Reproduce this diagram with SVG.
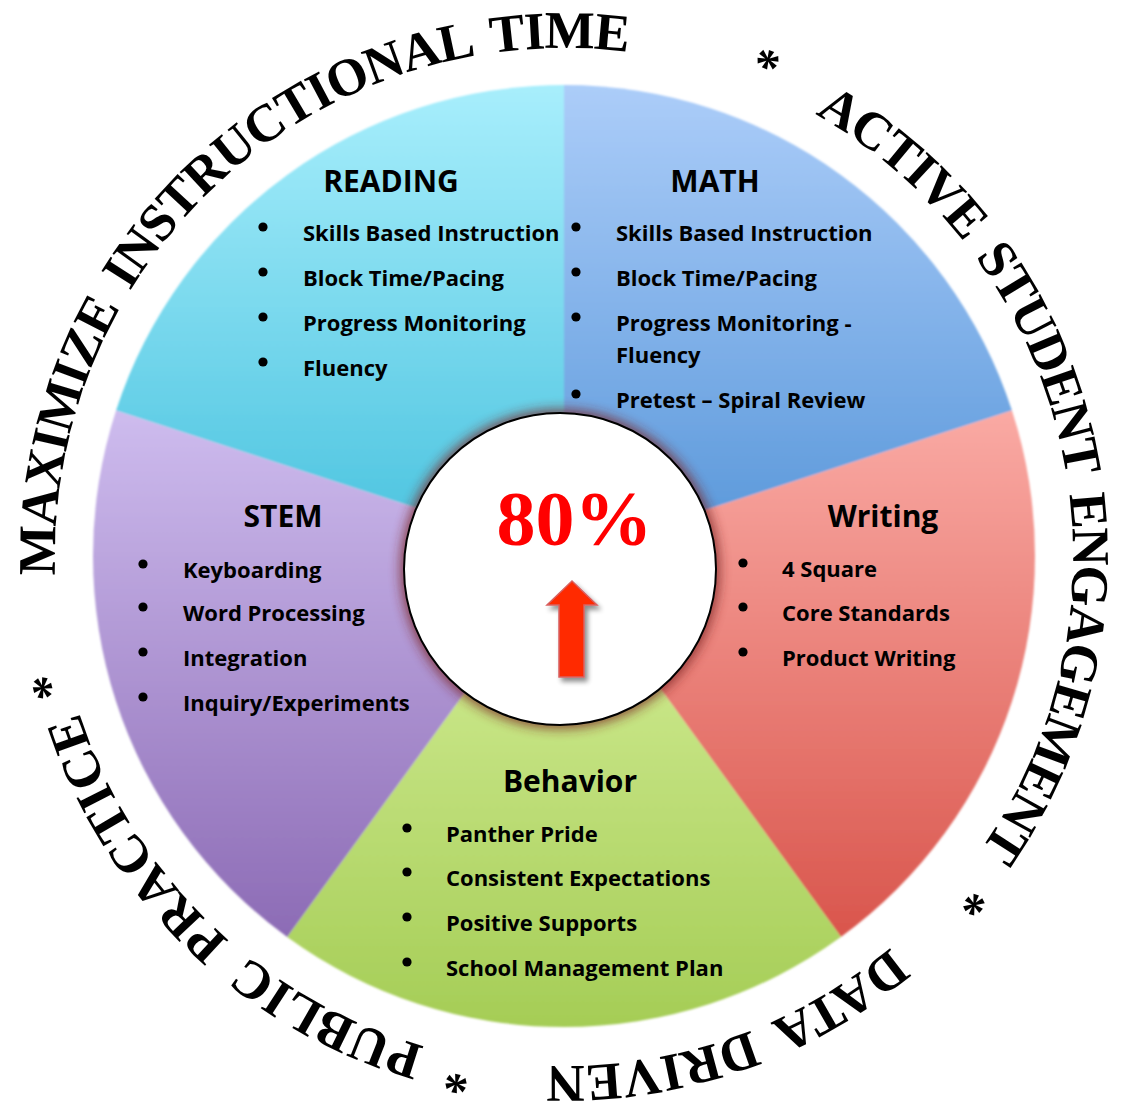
<svg xmlns="http://www.w3.org/2000/svg" xmlns:xlink="http://www.w3.org/1999/xlink" width="1124" height="1108" viewBox="0 0 1124 1108">
<style>
.head{font-family:"Open Sans","Liberation Sans",sans-serif;font-weight:700;font-size:30px;fill:#000;text-anchor:middle}
.item{font-family:"Open Sans","Liberation Sans",sans-serif;font-weight:700;font-size:22px;fill:#000}
.ring{font-family:"Liberation Serif","DejaVu Serif",serif;font-weight:700;font-size:53px;fill:#000;letter-spacing:-1.6px;word-spacing:8px}
.star{font-family:"Liberation Serif","DejaVu Serif",serif;font-weight:700;font-size:50px;fill:#000}
.pct{font-family:"Liberation Serif","DejaVu Serif",serif;font-weight:700;font-size:78px;fill:#ff0000;text-anchor:middle}
</style>
<defs>
<linearGradient id="gRead" gradientUnits="userSpaceOnUse" x1="0" y1="85" x2="0" y2="556"><stop offset="0" stop-color="#a8eefc"/><stop offset="1" stop-color="#48c2de"/></linearGradient>
<linearGradient id="gMath" gradientUnits="userSpaceOnUse" x1="0" y1="85" x2="0" y2="556"><stop offset="0" stop-color="#accdf9"/><stop offset="1" stop-color="#5796d9"/></linearGradient>
<linearGradient id="gWrit" gradientUnits="userSpaceOnUse" x1="0" y1="410" x2="0" y2="940"><stop offset="0" stop-color="#faaaa4"/><stop offset="1" stop-color="#d9554c"/></linearGradient>
<linearGradient id="gBeh" gradientUnits="userSpaceOnUse" x1="0" y1="556" x2="0" y2="1027"><stop offset="0" stop-color="#d6ef9a"/><stop offset="1" stop-color="#a5cd56"/></linearGradient>
<linearGradient id="gStem" gradientUnits="userSpaceOnUse" x1="0" y1="410" x2="0" y2="940"><stop offset="0" stop-color="#cebcee"/><stop offset="1" stop-color="#8c6bb5"/></linearGradient>
<filter id="soft" x="-5%" y="-5%" width="110%" height="110%"><feGaussianBlur stdDeviation="1.2"/></filter>
<filter id="glow" x="-20%" y="-20%" width="140%" height="140%"><feGaussianBlur stdDeviation="6"/></filter>
<filter id="shadow" x="-30%" y="-30%" width="160%" height="160%"><feGaussianBlur in="SourceAlpha" stdDeviation="2.5"/><feOffset dx="3" dy="4" result="b"/><feComponentTransfer><feFuncA type="linear" slope="0.45"/></feComponentTransfer><feMerge><feMergeNode/><feMergeNode in="SourceGraphic"/></feMerge></filter>
<path id="ringPath" d="M1073 557 A509 509 0 0 1 55 557 A509 509 0 0 1 1073 557 A509 509 0 0 1 55 557 A509 509 0 0 1 1073 557"/>
<path id="starPath" d="M1078 557 A514 514 0 0 1 50 557 A514 514 0 0 1 1078 557 A514 514 0 0 1 50 557 A514 514 0 0 1 1078 557"/>
</defs>
<rect width="1124" height="1108" fill="#fff"/>

<g id="pie" filter="url(#soft)">
<path d="M564 556 L116.05 410.45 A471 471 0 0 1 564 85 Z" fill="url(#gRead)"/>
<path d="M564 556 L564 85 A471 471 0 0 1 1011.95 410.45 Z" fill="url(#gMath)"/>
<path d="M564 556 L1011.95 410.45 A471 471 0 0 1 840.85 937.05 Z" fill="url(#gWrit)"/>
<path d="M564 556 L840.85 937.05 A471 471 0 0 1 287.15 937.05 Z" fill="url(#gBeh)"/>
<path d="M564 556 L287.15 937.05 A471 471 0 0 1 116.05 410.45 Z" fill="url(#gStem)"/>
</g>

<g id="reading">
<text class="head" x="391" y="192">READING</text>
<circle cx="263" cy="227" r="4.6"/><text class="item" x="303" y="241">Skills Based Instruction</text>
<circle cx="263" cy="272" r="4.6"/><text class="item" x="303" y="286">Block Time/Pacing</text>
<circle cx="263" cy="317" r="4.6"/><text class="item" x="303" y="331">Progress Monitoring</text>
<circle cx="263" cy="362" r="4.6"/><text class="item" x="303" y="376">Fluency</text>
</g>

<g id="math">
<text class="head" x="715" y="192">MATH</text>
<circle cx="576" cy="227" r="4.6"/><text class="item" x="616" y="241">Skills Based Instruction</text>
<circle cx="576" cy="272" r="4.6"/><text class="item" x="616" y="286">Block Time/Pacing</text>
<circle cx="576" cy="317" r="4.6"/><text class="item" x="616" y="331">Progress Monitoring -</text>
<text class="item" x="616" y="363">Fluency</text>
<circle cx="576" cy="394" r="4.6"/><text class="item" x="616" y="408">Pretest – Spiral Review</text>
</g>

<g id="writing">
<text class="head" x="883" y="527">Writing</text>
<circle cx="743" cy="563" r="4.6"/><text class="item" x="782" y="577">4 Square</text>
<circle cx="743" cy="607" r="4.6"/><text class="item" x="782" y="621">Core Standards</text>
<circle cx="743" cy="652" r="4.6"/><text class="item" x="782" y="666">Product Writing</text>
</g>

<g id="stem">
<text class="head" x="283" y="527">STEM</text>
<circle cx="143" cy="564" r="4.6"/><text class="item" x="183" y="578">Keyboarding</text>
<circle cx="143" cy="607" r="4.6"/><text class="item" x="183" y="621">Word Processing</text>
<circle cx="143" cy="652" r="4.6"/><text class="item" x="183" y="666">Integration</text>
<circle cx="143" cy="697" r="4.6"/><text class="item" x="183" y="711">Inquiry/Experiments</text>
</g>

<g id="behavior">
<text class="head" x="570" y="792">Behavior</text>
<circle cx="407" cy="828" r="4.6"/><text class="item" x="446" y="842">Panther Pride</text>
<circle cx="407" cy="872" r="4.6"/><text class="item" x="446" y="886">Consistent Expectations</text>
<circle cx="407" cy="917" r="4.6"/><text class="item" x="446" y="931">Positive Supports</text>
<circle cx="407" cy="962" r="4.6"/><text class="item" x="446" y="976">School Management Plan</text>
</g>

<g id="center">
<circle cx="560" cy="569" r="160" fill="#7a2424" opacity="0.75" filter="url(#glow)"/>
<circle cx="560" cy="569" r="156" fill="#fff" stroke="#000" stroke-width="2"/>
<text class="pct" x="574.5" y="545">80%</text>
<path d="M572 581 L597 605 L584 605 L584 677 L559 677 L559 605 L547 605 Z" fill="#ff2a00" stroke="#d86060" stroke-width="1.5" filter="url(#shadow)"/>
</g>

<g id="ring-text">
<text class="ring" style="letter-spacing:-1.3px"><textPath href="#ringPath" startOffset="1580.4">MAXIMIZE INSTRUCTIONAL TIME</textPath></text>
<text class="star" text-anchor="middle"><textPath href="#starPath" startOffset="2622.1">*</textPath></text>
<text class="ring"><textPath href="#ringPath" startOffset="2660.7">ACTIVE STUDENT ENGAGEMENT</textPath></text>
<text class="star" text-anchor="middle"><textPath href="#starPath" startOffset="361.5">*</textPath></text>
<text class="ring" style="letter-spacing:0px;word-spacing:10px"><textPath href="#ringPath" startOffset="445.1">DATA DRIVEN</textPath></text>
<text class="star" text-anchor="middle"><textPath href="#starPath" startOffset="911.4">*</textPath></text>
<text class="ring" style="letter-spacing:0px;word-spacing:10px"><textPath href="#ringPath" startOffset="940.8">PUBLIC PRACTICE</textPath></text>
<text class="star" text-anchor="middle"><textPath href="#starPath" startOffset="1488.3">*</textPath></text>
</g>
</svg>
